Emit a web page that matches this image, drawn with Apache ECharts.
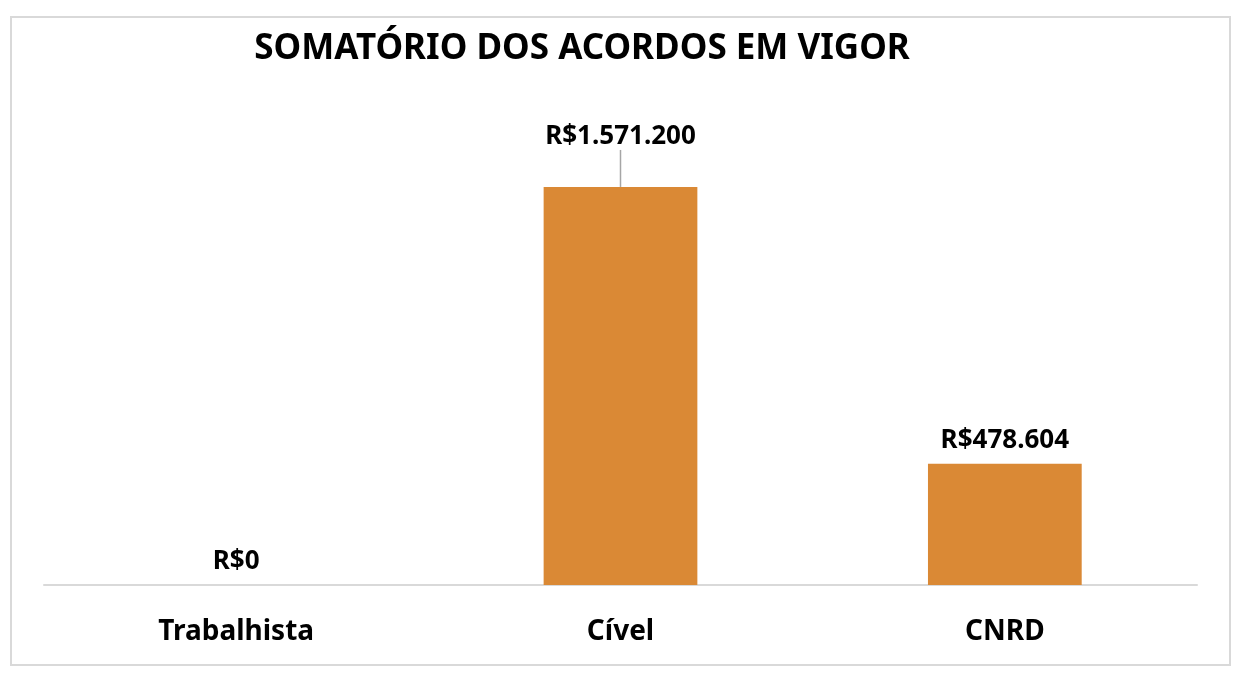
<!DOCTYPE html>
<html><head><meta charset="utf-8">
<script src="https://cdn.jsdelivr.net/npm/echarts@6/dist/echarts.min.js"></script>
<style>html,body{margin:0;padding:0;background:#fff}#c{width:1244px;height:680px}</style>
</head><body><div id="c"></div>
<script>
const categories = ['Trabalhista', 'Cível', 'CNRD'];
const values = [0, 1571200, 478604];
const titleText = 'SOMATÓRIO DOS ACORDOS EM VIGOR';

function brl(v) {
  return 'R$' + String(Math.round(v)).replace(/\B(?=(\d{3})+(?!\d))/g, '.');
}
const FONT = 'Noto Sans';
const chart = echarts.init(document.getElementById('c'));
const barData = values.map((v, i) => i === 1
  ? { value: v, labelLine: { show: true, lineStyle: { color: '#a6a6a6', width: 1.5 } } }
  : { value: v });
chart.setOption({
  animation: false,
  backgroundColor: '#fff',
  title: {
    text: titleText, left: 577, top: 27, textAlign: 'center',
    textStyle: { fontFamily: FONT, fontWeight: 'bold', fontSize: 35, color: '#000' }
  },
  graphic: [{
    type: 'rect', shape: { x: 11, y: 17, width: 1219, height: 648 },
    style: { fill: 'none', stroke: '#d9d9d9', lineWidth: 2 }, silent: true, z: -1
  }],
  grid: { left: 44, right: 47, top: 129, bottom: 95 },
  xAxis: {
    type: 'category', data: categories,
    axisLine: { lineStyle: { color: '#d9d9d9', width: 2 } },
    axisTick: { show: false },
    axisLabel: { fontFamily: FONT, fontWeight: 'bold', fontSize: 28, color: '#000', margin: 33 }
  },
  yAxis: {
    type: 'value', min: 0, max: 1800000, interval: 200000,
    show: false, splitLine: { show: false }
  },
  series: [{
    type: 'bar', data: barData, barCategoryGap: '60%',
    itemStyle: { color: '#DA8935' },
    label: {
      show: true, position: 'top', distance: 10,
      formatter: p => brl(p.value),
      fontFamily: FONT, fontWeight: 'bold', fontSize: 26, color: '#000'
    },
    labelLine: { show: false },
    labelLayout: function (params) {
      return params.dataIndex === 1 ? { dy: -27 } : {};
    }
  }]
});
</script></body></html>
